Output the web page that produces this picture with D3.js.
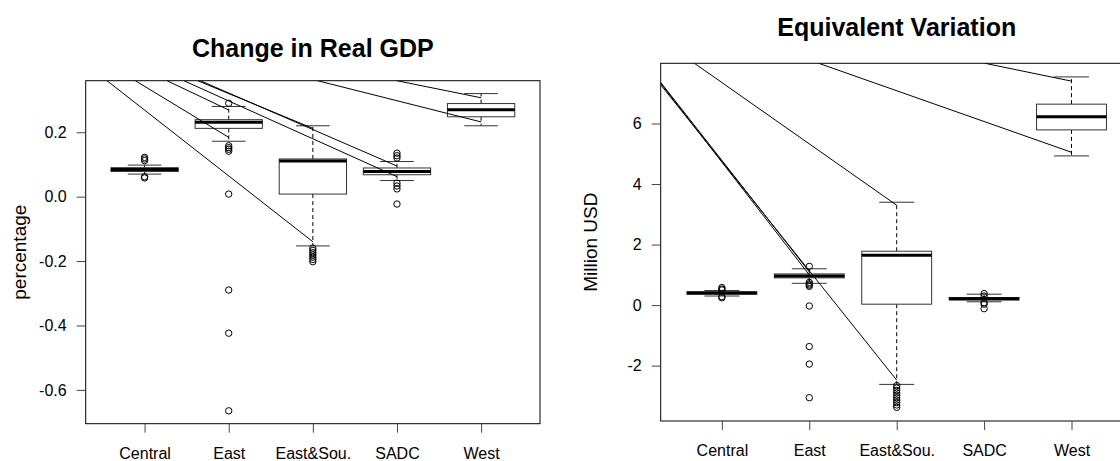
<!DOCTYPE html>
<html>
<head>
<meta charset="utf-8">
<script src="https://cdn.jsdelivr.net/npm/d3@7"></script>
<style>
  body { margin: 0; background: #fff; }
  svg { font-family: "Liberation Sans", Arial, sans-serif; display: block; }
</style>
</head>
<body>
<svg id="chart" width="1120" height="461"></svg>
<script>
const categories = ["Central", "East", "East&Sou.", "SADC", "West"];

// Change in Real GDP (percentage)
const gdpLow = [0.070, 0.172, -0.153, 0.050, 0.220];
const gdpQ1 = [0.078, 0.212, 0.008, 0.068, 0.248];
const gdpMed = [0.084, 0.231, 0.111, 0.078, 0.270];
const gdpQ3 = [0.090, 0.239, 0.117, 0.089, 0.289];
const gdpHigh = [0.098, 0.280, 0.220, 0.109, 0.320];
const gdpOut = [
	[0.122, 0.117, 0.112, 0.062, 0.058],
	[0.290, 0.158, 0.152, 0.147, 0.141, 0.008, -0.290, -0.424, -0.665],
	[-0.160, -0.167, -0.174, -0.181, -0.188, -0.195, -0.202],
	[0.135, 0.127, 0.120, 0.042, 0.033, 0.024, -0.023],
	[],
];
const gdpTicks = [0.2, 0.0, -0.2, -0.4, -0.6];
// stray segments [x0, y0, x1, y1] in data units
const gdpSegs = [
	[0.553, 0.36, 3, -0.14],
	[0.890, 0.36, 2, 0.184],
	[1.266, 0.36, 2, 0.269],
	[1.631, 0.36, 3, 0.212],
	[1.662, 0.36, 4, 0.095],
	[1.466, 0.36, 4, 0.062],
	[3.055, 0.36, 5, 0.232],
	[3.998, 0.36, 5, 0.307],
];

// Equivalent Variation (Million USD)
const evLow = [0.30, 0.72, -2.62, 0.11, 4.93];
const evQ1 = [0.36, 0.90, 0.03, 0.17, 5.79];
const evMed = [0.40, 0.96, 1.65, 0.21, 6.22];
const evQ3 = [0.44, 1.03, 1.78, 0.25, 6.64];
const evHigh = [0.48, 1.20, 3.40, 0.36, 7.54];
const evOut = [
	[0.58, 0.53, 0.50, 0.28, 0.24],
	[1.28, 0.75, 0.70, 0.66, 0.62, -0.03, -1.37, -1.95, -3.06],
	[-2.66, -2.74, -2.82, -2.90, -2.98, -3.06, -3.14, -3.22, -3.30, -3.38],
	[0.38, 0.30, 0.08, 0.03, -0.12],
	[],
];
const evTicks = [6, 4, 2, 0, -2];
const evSegs = [
	[0.3, 7.33, 2, 1.00],
	[0.3, 7.36, 2, 1.10],
	[0.3, 7.28, 3, -2.48],
	[0.686, 7.99, 3, 3.30],
	[2.108, 7.99, 5, 5.05],
	[4.009, 7.99, 5, 7.40],
];

const svg = d3.select("#chart");

// R style labels use a plain hyphen for the minus sign
const hyphen = (f) => (v) => f(v).replace("\u2212", "-");

function drawPanel(p) {
	const x = d3.scaleLinear().domain([0.3, 5.7]).range([p.left, p.right]);
	const y = d3.scaleLinear().domain(p.yDomain).range([p.bottom, p.top]);
	const g = svg.append("g");
	const bw = 0.4; // half box width
	const sw = 0.2; // half staple width

	const clipId = "clip-" + p.id;
	svg.append("clipPath").attr("id", clipId)
		.append("rect")
		.attr("x", p.left).attr("y", p.top)
		.attr("width", p.right - p.left).attr("height", p.bottom - p.top);

	const data = categories.map((c, i) => ({
		i: i + 1, low: p.low[i], q1: p.q1[i], med: p.med[i], q3: p.q3[i], high: p.high[i], out: p.out[i],
	}));

	const box = g.append("g").selectAll("g").data(data).join("g");

	// whiskers
	box.append("line")
		.attr("x1", (d) => x(d.i)).attr("x2", (d) => x(d.i))
		.attr("y1", (d) => y(d.q3)).attr("y2", (d) => y(d.high))
		.attr("stroke", "#000").attr("stroke-dasharray", "4,3");
	box.append("line")
		.attr("x1", (d) => x(d.i)).attr("x2", (d) => x(d.i))
		.attr("y1", (d) => y(d.q1)).attr("y2", (d) => y(d.low))
		.attr("stroke", "#000").attr("stroke-dasharray", "4,3");
	// staples
	["low", "high"].forEach((k) => {
		box.append("line")
			.attr("x1", (d) => x(d.i - sw)).attr("x2", (d) => x(d.i + sw))
			.attr("y1", (d) => y(d[k])).attr("y2", (d) => y(d[k]))
			.attr("stroke", "#333");
	});
	// box
	box.append("rect")
		.attr("x", (d) => x(d.i - bw))
		.attr("width", (d) => x(d.i + bw) - x(d.i - bw))
		.attr("y", (d) => y(d.q3))
		.attr("height", (d) => y(d.q1) - y(d.q3))
		.attr("fill", "#fff").attr("stroke", "#333");
	// median
	box.append("line")
		.attr("x1", (d) => x(d.i - bw)).attr("x2", (d) => x(d.i + bw))
		.attr("y1", (d) => y(d.med)).attr("y2", (d) => y(d.med))
		.attr("stroke", "#000").attr("stroke-width", 3);
	// outliers
	box.selectAll("circle")
		.data((d) => d.out.map((v) => ({ i: d.i, v })))
		.join("circle")
		.attr("cx", (d) => x(d.i)).attr("cy", (d) => y(d.v))
		.attr("r", 3.2).attr("fill", "none").attr("stroke", "#000");

	// stray segments
	g.append("g").attr("clip-path", `url(#${clipId})`)
		.selectAll("line").data(p.segs).join("line")
		.attr("x1", (d) => x(d[0])).attr("y1", (d) => y(d[1]))
		.attr("x2", (d) => x(d[2])).attr("y2", (d) => y(d[3]))
		.attr("stroke", "#000").attr("stroke-width", 1);

	// frame
	g.append("rect")
		.attr("x", p.left).attr("y", p.top)
		.attr("width", p.right - p.left).attr("height", p.bottom - p.top)
		.attr("fill", "none").attr("stroke", "#000");

	// axes
	const yAxis = g.append("g").attr("transform", `translate(${p.left},0)`)
		.call(d3.axisLeft(y).tickValues(p.ticks).tickFormat(hyphen(p.fmt)).tickSize(9).tickPadding(10));
	yAxis.select(".domain").remove();
	yAxis.selectAll("line").attr("stroke", "#444");
	yAxis.selectAll("text").attr("font-size", 16).attr("fill", "#000")
		.attr("font-family", "Liberation Sans, Arial, sans-serif");

	const xAxis = g.append("g").attr("transform", `translate(0,${p.bottom})`)
		.call(d3.axisBottom(x).tickValues([1, 2, 3, 4, 5])
			.tickFormat((i) => categories[i - 1]).tickSize(9).tickPadding(15));
	xAxis.select(".domain").remove();
	xAxis.selectAll("line").attr("stroke", "#444");
	xAxis.selectAll("text").attr("font-size", 16).attr("fill", "#000")
		.attr("font-family", "Liberation Sans, Arial, sans-serif");

	// titles
	g.append("text")
		.attr("x", (p.left + p.right) / 2).attr("y", p.titleY)
		.attr("text-anchor", "middle").attr("font-size", 25).attr("font-weight", "bold")
		.text(p.title);
	g.append("text")
		.attr("transform", `translate(${p.labelX},${(p.top + p.bottom) / 2}) rotate(-90)`)
		.attr("text-anchor", "middle").attr("font-size", 19)
		.text(p.ylab);
}

drawPanel({
	id: "gdp", left: 85.7, right: 540, top: 80.7, bottom: 423.7,
	yDomain: [-0.705, 0.36], ticks: gdpTicks, fmt: d3.format(".1f"),
	low: gdpLow, q1: gdpQ1, med: gdpMed, q3: gdpQ3, high: gdpHigh, out: gdpOut, segs: gdpSegs,
	title: "Change in Real GDP", titleY: 57, ylab: "percentage", labelX: 26,
});

drawPanel({
	id: "ev", left: 660.7, right: 1132.7, top: 63.3, bottom: 421,
	yDomain: [-3.83, 7.99], ticks: evTicks, fmt: d3.format("d"),
	low: evLow, q1: evQ1, med: evMed, q3: evQ3, high: evHigh, out: evOut, segs: evSegs,
	title: "Equivalent Variation", titleY: 36, ylab: "Million USD", labelX: 597,
});
</script>
</body>
</html>
